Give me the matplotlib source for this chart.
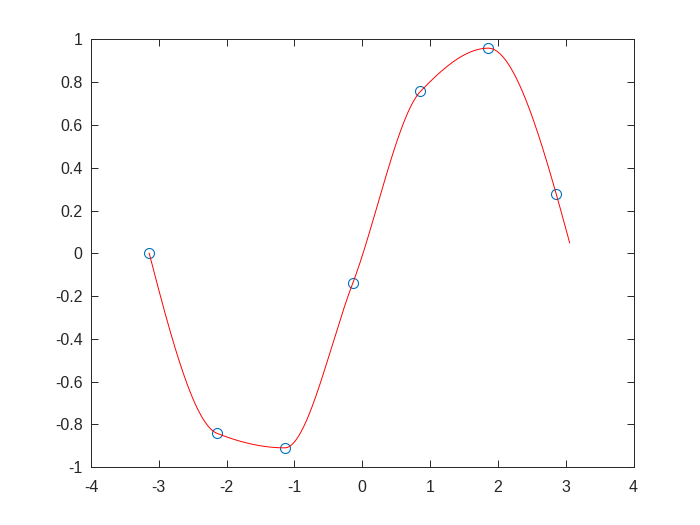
import numpy as np
import matplotlib
matplotlib.use("Agg")
import matplotlib.pyplot as plt

# data points (markers)
x_pts = [-3.1416, -2.1416, -1.1416, -0.1416, 0.8584, 1.8584, 2.8584]
y_pts = [0.0000, -0.8415, -0.9093, -0.1411, 0.7568, 0.9589, 0.2794]
# query range for the interpolated curve
xq_start, xq_stop, xq_step = -3.1416, 3.06, 0.02


def pchip_slopes(x, y):
    h = np.diff(x)
    delta = np.diff(y) / h
    n = len(x)
    d = np.zeros(n)
    for k in range(1, n - 1):
        if delta[k - 1] * delta[k] > 0:
            w1 = 2 * h[k] + h[k - 1]
            w2 = h[k] + 2 * h[k - 1]
            d[k] = (w1 + w2) / (w1 / delta[k - 1] + w2 / delta[k])
        else:
            d[k] = 0.0

    def end_slope(h0, h1, del0, del1):
        s = ((2 * h0 + h1) * del0 - h0 * del1) / (h0 + h1)
        if np.sign(s) != np.sign(del0):
            s = 0.0
        elif np.sign(del0) != np.sign(del1) and abs(s) > abs(3 * del0):
            s = 3 * del0
        return s

    d[0] = end_slope(h[0], h[1], delta[0], delta[1])
    d[-1] = end_slope(h[-1], h[-2], delta[-1], delta[-2])
    return d


def pchip_eval(x, y, xq):
    x = np.asarray(x, float)
    y = np.asarray(y, float)
    d = pchip_slopes(x, y)
    idx = np.clip(np.searchsorted(x, xq) - 1, 0, len(x) - 2)
    h = x[idx + 1] - x[idx]
    s = (xq - x[idx]) / h
    h00 = 2 * s**3 - 3 * s**2 + 1
    h10 = s**3 - 2 * s**2 + s
    h01 = -2 * s**3 + 3 * s**2
    h11 = s**3 - s**2
    return h00 * y[idx] + h10 * h * d[idx] + h01 * y[idx + 1] + h11 * h * d[idx + 1]


xq = np.arange(xq_start, xq_stop + 1e-9, xq_step)
yq = pchip_eval(x_pts, y_pts, xq)

plt.rcParams['font.family'] = ['Liberation Sans', 'DejaVu Sans']
fig = plt.figure(figsize=(7, 5.25), dpi=100)
ax = fig.add_axes([0.13, 0.11, 0.775, 0.815])

ax.plot(x_pts, y_pts, 'o', mfc='none', mec='#0072BD', ms=7.2, mew=0.8)
ax.plot(xq, yq, '-', color='red', lw=0.7)

ax.set_xlim(-4, 4)
ax.set_ylim(-1, 1)
ax.set_xticks(np.arange(-4, 5, 1))
ax.set_yticks(np.round(np.arange(-1, 1.01, 0.2), 1))
ax.set_yticklabels(['-1', '-0.8', '-0.6', '-0.4', '-0.2', '0', '0.2', '0.4', '0.6', '0.8', '1'])
ax.set_xticklabels([str(v) for v in range(-4, 5)])

axcol = '#262626'
for sp in ax.spines.values():
    sp.set_color(axcol)
    sp.set_linewidth(0.7)
ax.tick_params(direction='in', length=5, width=0.7, colors=axcol,
               top=True, right=True, labelsize=11.5)
ax.tick_params(axis='x', pad=9)
ax.tick_params(axis='y', pad=6)

fig.savefig('out.png', dpi=100)
